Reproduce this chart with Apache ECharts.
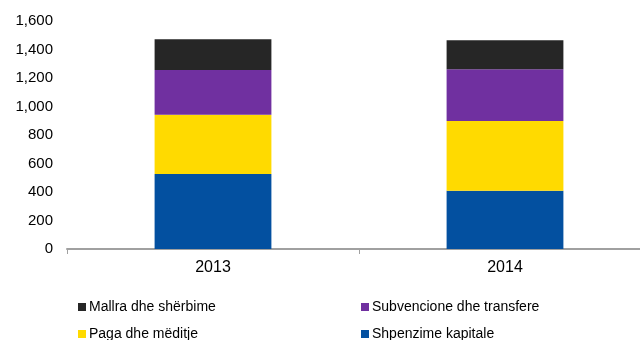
<!DOCTYPE html>
<html>
<head>
<meta charset="utf-8">
<script src="https://cdn.jsdelivr.net/npm/echarts@6/dist/echarts.min.js"></script>
<style>
  html, body { margin: 0; padding: 0; background: #fff; }
  #chart { width: 640px; height: 340px; }
</style>
</head>
<body>
<div id="chart"></div>
<script>
// Budget expenditure by category, 2013–2014
const years = ['2013', '2014'];
const kapitale = [526, 409];      // Shpenzime kapitale
const paga = [416, 489];          // Paga dhe mëditje
const subvencione = [314, 363];   // Subvencione dhe transfere
const mallra = [216, 204];        // Mallra dhe shërbime
const yTicks = [0, 200, 400, 600, 800, 1000, 1200, 1400, 1600];

const names = {
  kapitale: 'Shpenzime kapitale',
  paga: 'Paga dhe mëditje',
  subvencione: 'Subvencione dhe transfere',
  mallra: 'Mallra dhe shërbime'
};
const colors = {
  kapitale: '#0350A0',
  paga: '#FFDA00',
  subvencione: '#7030A0',
  mallra: '#262626'
};

const font = 'Liberation Sans, Arial, sans-serif';

function bar(key, data) {
  return {
    name: names[key],
    type: 'bar',
    stack: 'total',
    barWidth: '40%',
    data: data,
    itemStyle: { color: colors[key] }
  };
}

function legendAt(key, left, top) {
  return {
    data: [names[key]],
    left: left,
    top: top,
    itemWidth: 8,
    itemHeight: 8,
    icon: 'rect',
    itemGap: 4,
    textStyle: { fontFamily: font, fontSize: 14, color: '#000', padding: [0, 0, 0, -2] }
  };
}

const chart = echarts.init(document.getElementById('chart'));
chart.setOption({
  animation: false,
  // plot area runs a little past the right edge of the canvas
  grid: {
    left: 67, width: 584, top: 21, height: 228,
    containLabel: false,
    outerBoundsMode: 'none'
  },
  xAxis: {
    type: 'category',
    data: years,
    axisLine: { lineStyle: { color: '#A0A0A0', width: 2 } },
    axisTick: { show: true, length: 5, lineStyle: { color: '#A0A0A0', width: 1 } },
    axisLabel: { fontFamily: font, fontSize: 16, color: '#000', margin: 11 }
  },
  yAxis: {
    type: 'value',
    min: yTicks[0],
    max: yTicks[yTicks.length - 1],
    interval: 200,
    axisLine: { show: false },
    axisTick: { show: false },
    splitLine: { show: false },
    axisLabel: {
      fontFamily: font, fontSize: 15, color: '#000', margin: 14,
      formatter: v => v.toLocaleString('en-US')
    }
  },
  legend: [
    legendAt('mallra', 73, 295),
    legendAt('subvencione', 356, 295),
    legendAt('paga', 73, 322),
    legendAt('kapitale', 356, 322)
  ],
  series: [
    bar('kapitale', kapitale),
    bar('paga', paga),
    bar('subvencione', subvencione),
    bar('mallra', mallra)
  ]
});
</script>
</body>
</html>
